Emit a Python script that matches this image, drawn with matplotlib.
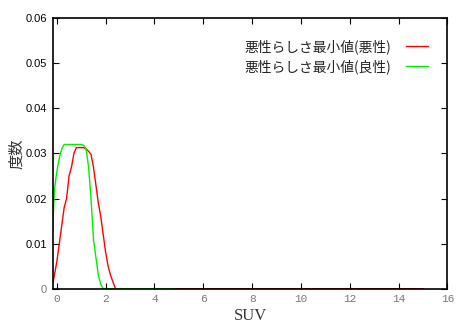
import numpy as np
import matplotlib
matplotlib.use("Agg")
import matplotlib.pyplot as plt

# SUV distributions
red_x = [-0.17, -0.1, 0.0, 0.1, 0.2, 0.3, 0.4, 0.5, 0.6, 0.7, 0.8, 0.9, 1.0, 1.1, 1.2,
         1.3, 1.4, 1.5, 1.6, 1.7, 1.8, 1.9, 2.0, 2.1, 2.2, 2.3, 2.4, 2.45, 15.0]
red_y = [0.001, 0.003, 0.006, 0.010, 0.014, 0.018, 0.020, 0.025, 0.027, 0.030, 0.0313,
         0.0313, 0.0313, 0.0313, 0.031, 0.0305, 0.0298, 0.027, 0.023, 0.019, 0.016,
         0.012, 0.008, 0.005, 0.003, 0.0015, 0.0, 0.0, 0.0]
green_x = [-0.17, -0.1, 0.0, 0.1, 0.2, 0.3, 0.4, 1.0, 1.1, 1.2, 1.3, 1.4, 1.5, 1.6,
           1.7, 1.8, 1.9, 4.8]
green_y = [0.013, 0.022, 0.026, 0.029, 0.031, 0.032, 0.032, 0.032, 0.0318, 0.031,
           0.027, 0.020, 0.011, 0.007, 0.003, 0.001, 0.0, 0.0]
labels = ["悪性らしさ最小値(悪性)", "悪性らしさ最小値(良性)"]
xticks = np.arange(0, 17, 2)
yticks = [0, 0.01, 0.02, 0.03, 0.04, 0.05, 0.06]

cjk = ["Noto Sans CJK JP", "DejaVu Sans"]

fig = plt.figure(figsize=(4.57, 3.25), dpi=100)
ax = fig.add_axes([0.1153, 0.1117, 0.8637, 0.832])
ax.plot(red_x, red_y, color="red", lw=1.0, label=labels[0])
ax.plot(green_x, green_y, color="#00ee00", lw=1.0, label=labels[1])

ax.set_xlim(-0.17, 16)
ax.set_ylim(0, 0.06)
ax.set_xticks(xticks)
ax.set_xticklabels([str(v) for v in xticks], family="Liberation Mono", color="#777777", fontsize=8)
ax.set_yticks(yticks)
ax.set_yticklabels(["0", "0.01", "0.02", "0.03", "0.04", "0.05", "0.06"],
                   family="Liberation Sans", fontsize=8)
ax.get_yticklabels()[0].set_color("#777777")
ax.tick_params(direction="in", top=True, right=True, length=4, width=0.8, pad=4)
for s in ax.spines.values():
    s.set_linewidth(1.2)

ax.set_xlabel("SUV", family="Liberation Serif", fontsize=12, color="#333333", labelpad=3)
ax.set_ylabel("度数", family=cjk, fontsize=11, color="#333333", labelpad=0)

leg = ax.legend(loc="upper right", bbox_to_anchor=(0.983, 0.968), frameon=False,
                markerfirst=False, handlelength=1.6, handletextpad=1.1,
                labelspacing=0.35, prop={"family": cjk, "size": 9.9})
for t in leg.get_texts():
    t.set_color("#222222")

fig.savefig("out.png", dpi=100)
